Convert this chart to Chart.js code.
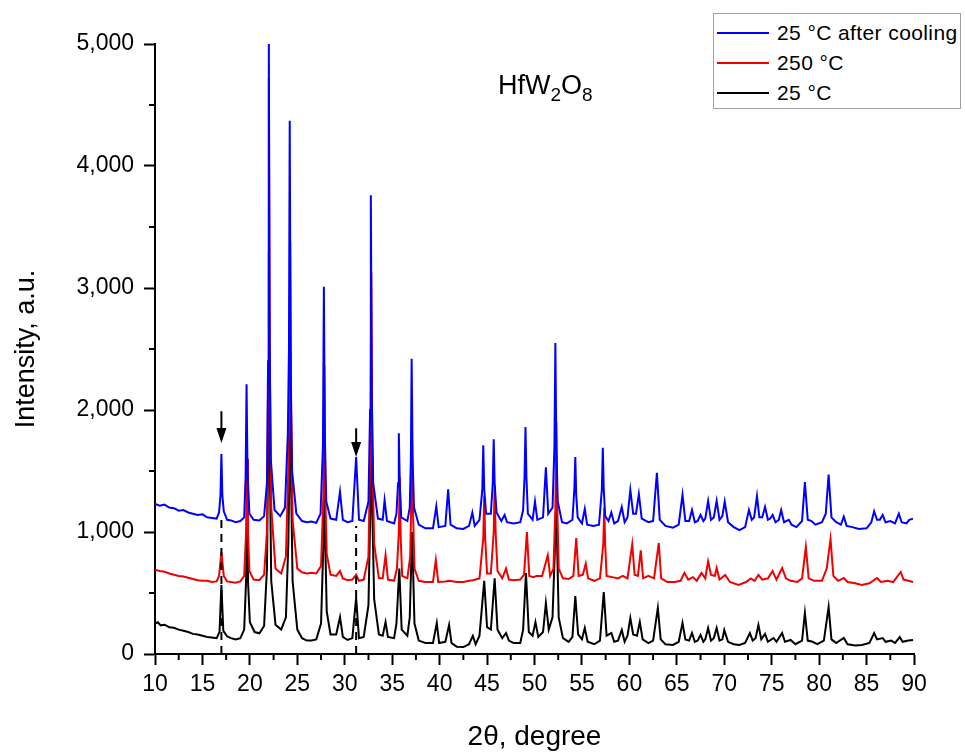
<!DOCTYPE html>
<html>
<head>
<meta charset="utf-8">
<script src="https://cdn.jsdelivr.net/npm/chart.js@4.4.0/dist/chart.umd.min.js"></script>
<style>
  body { margin: 0; background: #fff; font-family: "Liberation Sans", Arial, sans-serif; }
  #wrap { position: relative; width: 965px; height: 754px; }
  #legend { position: absolute; left: 713px; top: 13px; width: 248px; height: 96px;
            border: 1px solid #a0a0a0; box-sizing: border-box; background: #fff; }
  .row { position: absolute; left: 3px; height: 30px; display: flex; align-items: center;
         font-size: 21px; letter-spacing: 0.4px; color: #000; white-space: nowrap; }
  .row span.ln { display: inline-block; width: 52px; height: 2px; margin-right: 8px; }
  #formula { position: absolute; left: 498px; top: 70px; font-size: 27px; color: #000; }
  #formula sub { font-size: 19px; vertical-align: -7px; }
</style>
</head>
<body>
<div id="wrap">
  <canvas id="xrd" width="965" height="754"></canvas>
  <div id="formula">HfW<sub>2</sub>O<sub>8</sub></div>
  <div id="legend">
    <div class="row" style="top:4px"><span class="ln" style="background:#0000ff"></span>25 °C after cooling</div>
    <div class="row" style="top:34px"><span class="ln" style="background:#f00000"></span>250 °C</div>
    <div class="row" style="top:64px"><span class="ln" style="background:#000"></span>25 °C</div>
  </div>
</div>
<script>
// [2θ, intensity]

// 25 °C after cooling (blue)
const coolScan = [
  [10.0,1230],[10.5,1215],[11.0,1225],[11.5,1200],[12.0,1195],[12.5,1175],[13.0,1180],[13.5,1160],
  [14.0,1150],[14.5,1140],[15.0,1145],[15.5,1120],[16.0,1115],[16.5,1110],
  [16.75,1160],[16.9,1300],[17.0,1640],[17.1,1300],[17.25,1170],[17.6,1100],[18.0,1095],[18.5,1080],[19.0,1090],
  [19.4,1120],[19.55,1450],[19.65,2210],[19.75,1500],[19.95,1150],[20.4,1100],[21.0,1095],
  [21.5,1130],[21.8,1400],[21.92,2400],[22.0,5000],[22.08,2600],[22.2,1600],[22.6,1180],[23.2,1130],
  [23.7,1200],[24.0,1800],[24.12,2500],[24.2,4370],[24.3,2300],[24.45,1500],[24.9,1150],
  [25.5,1090],[26.0,1080],[26.5,1085],[27.0,1075],
  [27.45,1150],[27.7,1700],[27.8,3010],[27.9,1800],[28.05,1250],[28.5,1110],[29.1,1100],
  [29.5,1330],[29.8,1100],[30.3,1080],[30.8,1090],[31.2,1615],[31.5,1100],[32.0,1090],
  [32.5,1250],[32.67,2000],[32.75,3760],[32.85,2100],[33.0,1400],[33.5,1110],[34.0,1100],
  [34.2,1260],[34.45,1090],[35.2,1070],[35.45,1150],[35.62,1400],[35.7,1810],[35.8,1400],[35.95,1120],
  [36.6,1090],[36.85,1200],[36.97,1600],[37.05,2420],[37.15,1600],[37.3,1200],[37.8,1060],
  [38.5,1030],[39.3,1030],[39.65,1210],[39.9,1040],[40.6,1050],[40.9,1350],[41.15,1060],
  [41.8,1030],[42.5,1025],[43.1,1050],[43.45,1160],[43.7,1050],
  [44.2,1100],[44.5,1350],[44.6,1710],[44.7,1350],[44.9,1150],[45.4,1150],[45.6,1400],[45.7,1760],[45.8,1400],[46.0,1160],
  [46.5,1090],[46.85,1140],[47.1,1080],[47.8,1070],[48.5,1080],
  [48.8,1180],[48.95,1450],[49.05,1860],[49.15,1450],[49.3,1150],[49.8,1100],[50.05,1250],[50.3,1100],
  [50.9,1120],[51.2,1530],[51.45,1150],[51.9,1200],[52.1,1700],[52.2,2550],[52.3,1700],[52.45,1250],
  [52.9,1080],[53.4,1070],[54.0,1100],[54.2,1350],[54.3,1615],[54.4,1300],[54.55,1120],
  [55.0,1070],[55.3,1190],[55.55,1060],[56.2,1050],[56.8,1060],[57.1,1350],[57.2,1690],[57.3,1350],[57.45,1130],
  [57.8,1090],[58.1,1160],[58.4,1070],[58.8,1090],[59.2,1205],[59.5,1080],[59.8,1120],[60.1,1345],
  [60.4,1150],[60.7,1150],[61.0,1310],[61.3,1110],[62.0,1080],[62.5,1090],[62.9,1485],[63.2,1100],
  [63.8,1050],[64.6,1035],[65.2,1060],[65.6,1305],[65.9,1090],[66.3,1090],[66.6,1180],[66.9,1080],
  [67.2,1090],[67.5,1140],[67.8,1090],[68.0,1110],[68.3,1255],[68.6,1100],[68.9,1120],[69.2,1255],
  [69.5,1100],[69.8,1130],[70.05,1250],[70.4,1080],[71.0,1040],[71.6,1015],[72.2,1040],[72.6,1180],
  [72.9,1100],[73.15,1120],[73.45,1295],[73.7,1120],[74.0,1120],[74.3,1205],[74.6,1100],[74.85,1110],
  [75.1,1140],[75.4,1080],[75.75,1100],[76.0,1180],[76.3,1080],[76.8,1100],[77.1,1060],[77.6,1040],
  [78.2,1090],[78.5,1410],[78.8,1100],[79.2,1090],[79.6,1060],[80.3,1080],[80.7,1150],[81.0,1470],
  [81.3,1120],[81.8,1080],[82.3,1060],[82.6,1125],[82.9,1050],[83.5,1040],[84.2,1025],[85.0,1030],
  [85.5,1080],[85.8,1170],[86.1,1100],[86.4,1100],[86.7,1140],[87.0,1080],[87.5,1090],[88.0,1070],
  [88.4,1150],[88.7,1080],[89.2,1070],[89.5,1100],[89.9,1110]
];

// 250 °C (red)
const hotScan = [
  [10.0,690],[10.5,680],[11.0,675],[11.5,660],[12.0,650],[12.5,640],[13.0,635],[13.5,625],
  [14.0,615],[14.5,605],[15.0,600],[15.5,600],[16.0,590],[16.5,595],
  [16.75,640],[17.0,835],[17.25,640],[17.6,595],[18.0,590],[18.5,585],[19.0,595],
  [19.4,640],[19.6,1000],[19.7,1600],[19.8,1000],[19.95,680],[20.4,610],[21.0,605],
  [21.5,650],[21.8,1000],[21.92,2200],[22.0,4720],[22.1,2400],[22.25,1200],[22.7,700],[23.3,660],
  [23.8,800],[24.05,1500],[24.17,2200],[24.25,3380],[24.35,2000],[24.5,1100],[25.0,700],
  [25.5,670],[26.0,660],[26.5,665],[27.0,660],
  [27.5,720],[27.75,1300],[27.85,2360],[27.95,1300],[28.1,820],[28.5,650],[29.1,640],
  [29.5,680],[29.8,620],[30.3,605],[30.8,610],[31.2,650],[31.5,600],[32.0,610],
  [32.5,800],[32.7,1700],[32.8,3130],[32.9,1700],[33.1,900],[33.6,620],[34.0,620],
  [34.3,810],[34.55,610],[35.2,600],[35.5,700],[35.7,1000],[35.8,1450],[35.9,950],[36.05,640],
  [36.6,620],[36.9,800],[37.0,1200],[37.1,1750],[37.2,1150],[37.35,700],[37.8,600],
  [38.5,590],[39.3,590],[39.6,770],[39.85,590],[40.6,595],[41.0,600],[41.8,590],[42.5,590],
  [43.1,600],[43.5,605],[44.2,620],[44.6,950],[44.7,1300],[44.8,950],[45.0,660],
  [45.4,660],[45.7,1000],[45.8,1380],[45.9,1000],[46.1,680],[46.6,620],[47.0,700],[47.3,610],
  [47.8,605],[48.5,610],[48.9,650],[49.2,1000],[49.45,640],[49.9,630],[50.2,640],[50.8,640],
  [51.4,810],[51.65,640],[52.0,700],[52.2,1200],[52.3,1900],[52.4,1200],[52.55,700],[53.0,620],
  [53.6,615],[54.1,640],[54.4,950],[54.65,640],[55.1,650],[55.4,740],[55.65,620],[56.3,600],
  [56.9,620],[57.25,900],[57.35,1200],[57.45,900],[57.6,640],[58.2,630],[58.8,620],[59.3,640],
  [59.8,620],[60.3,900],[60.55,650],[60.9,640],[61.2,850],[61.45,620],[62.0,640],[62.6,620],
  [63.1,910],[63.35,620],[64.0,590],[64.8,590],[65.4,600],[65.8,665],[66.2,610],[66.7,630],
  [67.1,600],[67.6,665],[68.0,620],[68.3,760],[68.6,650],[69.0,640],[69.2,705],[69.5,610],
  [70.1,648],[70.6,590],[71.5,566],[72.3,590],[72.8,620],[73.2,600],[73.6,648],[74.0,610],
  [74.6,620],[75.1,680],[75.5,610],[76.1,705],[76.5,620],[77.0,600],[77.7,590],[78.2,620],
  [78.6,877],[78.9,620],[79.5,600],[80.3,600],[80.8,700],[81.2,943],[81.5,640],[82.0,600],
  [82.6,623],[83.0,590],[83.8,580],[84.5,566],[85.3,580],[86.1,623],[86.5,590],[87.2,600],
  [87.8,590],[88.6,672],[88.9,610],[89.4,600],[89.9,590]
];

// 25 °C (black)
const roomScan = [
  [10.0,250],[10.3,260],[10.6,235],[11.0,240],[11.5,220],[12.0,215],[12.5,200],[13.0,190],
  [13.5,180],[14.0,165],[14.5,160],[15.0,150],[15.5,140],[16.0,135],[16.5,130],
  [16.8,180],[17.0,565],[17.2,190],[17.6,145],[18.0,130],[18.5,120],[19.0,130],
  [19.4,200],[19.6,600],[19.7,1100],[19.8,600],[20.0,260],[20.5,180],[21.0,170],
  [21.5,230],[21.8,700],[21.92,1600],[22.0,3300],[22.1,1600],[22.25,600],[22.7,240],[23.3,200],
  [23.8,300],[24.05,900],[24.17,1500],[24.25,2500],[24.35,1400],[24.5,600],[25.0,200],
  [25.5,130],[26.0,110],[26.5,110],[27.0,120],
  [27.5,250],[27.75,900],[27.85,1600],[27.95,900],[28.1,350],[28.5,160],[29.1,160],
  [29.5,303],[29.8,140],[30.3,115],[30.8,130],[31.2,460],[31.5,130],[32.0,140],
  [32.5,400],[32.7,1200],[32.8,2200],[32.9,1200],[33.1,450],[33.6,160],[34.0,150],
  [34.3,262],[34.55,140],[35.2,130],[35.45,250],[35.75,700],[36.0,200],[36.6,150],
  [36.85,300],[37.1,1000],[37.35,250],[37.8,110],[38.5,90],[39.3,90],[39.7,254],[39.95,90],
  [40.6,100],[41.0,238],[41.25,90],[41.8,60],[42.5,57],[43.1,80],[43.5,148],[43.8,80],
  [44.2,150],[44.7,600],[45.0,220],[45.4,200],[45.8,620],[46.1,200],[46.6,130],[47.0,172],
  [47.3,110],[47.8,90],[48.5,90],[48.8,200],[49.1,664],[49.4,180],[49.8,150],[50.1,262],
  [50.4,140],[50.9,180],[51.2,418],[51.5,200],[51.9,300],[52.3,1200],[52.55,300],[53.0,130],
  [53.6,100],[54.0,140],[54.3,475],[54.6,160],[55.0,120],[55.3,213],[55.6,100],[56.3,80],
  [56.9,110],[57.3,508],[57.6,150],[58.1,172],[58.4,100],[58.8,110],[59.2,197],[59.5,100],
  [59.8,150],[60.1,295],[60.4,160],[60.8,150],[61.1,262],[61.4,120],[62.0,90],[62.5,110],
  [63.0,377],[63.3,120],[63.8,80],[64.6,74],[65.2,100],[65.6,254],[65.9,120],[66.3,110],
  [66.6,172],[66.9,100],[67.2,110],[67.5,156],[67.8,100],[68.0,120],[68.3,213],[68.6,110],
  [68.9,130],[69.2,213],[69.5,110],[69.8,120],[70.0,197],[70.4,100],[71.0,80],[71.6,74],
  [72.2,90],[72.7,172],[73.0,110],[73.3,130],[73.6,238],[73.9,120],[74.3,164],[74.6,100],
  [75.2,131],[75.5,100],[76.1,172],[76.4,100],[77.0,115],[77.5,80],[78.2,110],[78.5,336],
  [78.8,110],[79.3,100],[79.8,80],[80.5,110],[81.0,385],[81.3,120],[81.8,90],[82.6,131],
  [83.0,80],[83.8,70],[84.5,74],[85.3,90],[85.8,172],[86.1,120],[86.7,131],[87.0,100],
  [87.6,110],[88.0,90],[88.5,139],[88.8,100],[89.4,110],[89.9,115]
];

// marked reflections: dashed guide lines and arrows
const markAngle = [17.0, 31.2];
const markDashTop = [1100, 1050];
const arrowTail = [1990, 1850];
const arrowTip = [1730, 1615];

const xTicks = { min: 10, max: 90, step: 5 };
const yTicks = { min: 0, max: 5000, step: 1000 };

const toPts = scan => scan.map(([x, y]) => ({ x, y }));

const guideSets = markAngle.map((a, i) => ({
  data: [{ x: a, y: 0 }, { x: a, y: markDashTop[i] }],
  borderColor: '#000', borderWidth: 2, borderDash: [8, 6], pointRadius: 0, order: 0
}));

const extras = {
  id: 'extras',
  afterDatasetsDraw(chart) {
    const { ctx, scales: { x, y } } = chart;
    ctx.save();
    ctx.strokeStyle = '#000'; ctx.fillStyle = '#000'; ctx.lineWidth = 2;
    markAngle.forEach((a, i) => {
      const px = x.getPixelForValue(a);
      const yt = y.getPixelForValue(arrowTail[i]);
      const yp = y.getPixelForValue(arrowTip[i]);
      ctx.beginPath(); ctx.moveTo(px, yt); ctx.lineTo(px, yp - 12); ctx.stroke();
      ctx.beginPath(); ctx.moveTo(px - 5, yp - 15); ctx.lineTo(px + 5, yp - 15); ctx.lineTo(px, yp); ctx.closePath(); ctx.fill();
    });
    ctx.restore();
  },
  afterDraw(chart) {
    const { ctx, scales: { x, y } } = chart;
    ctx.save();
    ctx.strokeStyle = '#000'; ctx.lineWidth = 2;
    // minor ticks
    for (let v = xTicks.min + xTicks.step / 2; v < xTicks.max; v += xTicks.step) {
      const px = x.getPixelForValue(v);
      ctx.beginPath(); ctx.moveTo(px, y.bottom); ctx.lineTo(px, y.bottom + 6); ctx.stroke();
    }
    for (let v = yTicks.min + yTicks.step / 2; v < yTicks.max; v += yTicks.step) {
      const py = y.getPixelForValue(v);
      ctx.beginPath(); ctx.moveTo(x.left, py); ctx.lineTo(x.left - 6, py); ctx.stroke();
    }
    ctx.restore();
  }
};

const font = (s) => ({ family: '"Liberation Sans", Arial, sans-serif', size: s });

new Chart(document.getElementById('xrd'), {
  type: 'line',
  data: {
    datasets: [
      ...guideSets,
      { label: '25 °C after cooling', data: toPts(coolScan), borderColor: '#0000ff', order: 1 },
      { label: '250 °C', data: toPts(hotScan), borderColor: '#f00000', order: 2 },
      { label: '25 °C', data: toPts(roomScan), borderColor: '#000000', order: 3 }
    ]
  },
  options: {
    responsive: false,
    animation: false,
    parsing: false,
    layout: { padding: { top: 44, right: 51, left: 0, bottom: 0 } },
    elements: { line: { borderWidth: 2, tension: 0 }, point: { radius: 0 } },
    plugins: { legend: { display: false }, tooltip: { enabled: false } },
    scales: {
      x: {
        type: 'linear', min: xTicks.min, max: xTicks.max,
        afterFit: s => { s.height = 100; },
        border: { color: '#000', width: 2 },
        grid: { drawOnChartArea: false, color: '#000', tickLength: 11, tickWidth: 2 },
        ticks: { stepSize: xTicks.step, color: '#000', font: font(23), padding: 6, maxRotation: 0 },
        title: { display: true, text: '2θ, degree', color: '#000', font: font(28), padding: { top: 0, bottom: 0 } }
      },
      y: {
        min: yTicks.min, max: yTicks.max,
        afterFit: s => { s.width = 155; },
        border: { color: '#000', width: 2 },
        grid: { drawOnChartArea: false, color: '#000', tickLength: 11, tickWidth: 2 },
        ticks: { stepSize: yTicks.step, color: '#000', font: font(23), padding: 10,
                 callback: v => v.toLocaleString('en-US') },
        title: { display: true, text: 'Intensity, a.u.', color: '#000', font: font(27), padding: { top: 10, bottom: 0 } }
      }
    }
  },
  plugins: [extras]
});
</script>
</body>
</html>
